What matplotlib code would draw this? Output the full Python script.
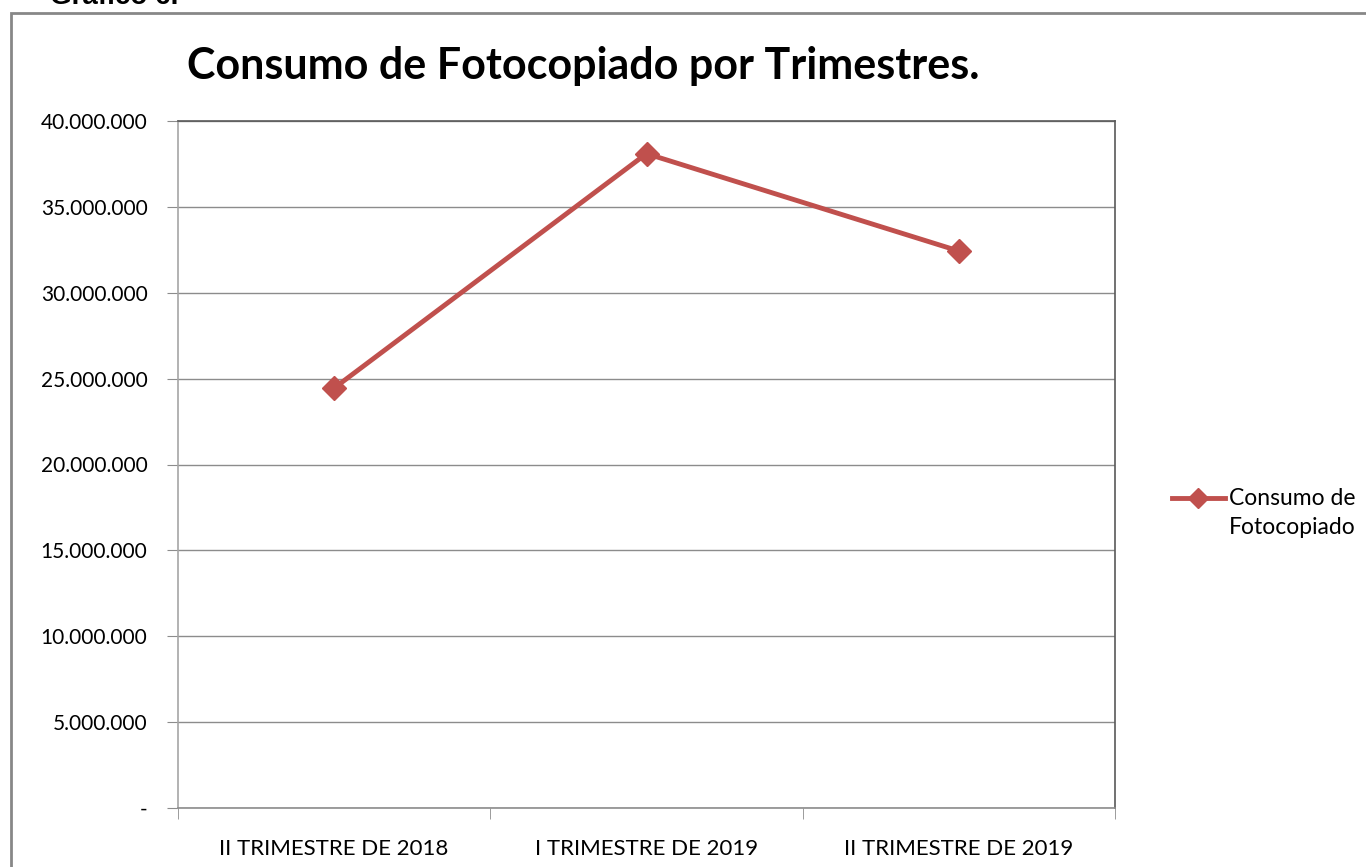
import matplotlib.pyplot as plt
from matplotlib.ticker import FuncFormatter, FixedLocator
from matplotlib.patches import Rectangle
from matplotlib.lines import Line2D

# Datos
trimestres = ['II TRIMESTRE DE 2018', 'I TRIMESTRE DE 2019', 'II TRIMESTRE DE 2019']
consumo = [24450000, 38100000, 32430000]
y_ticks = [0, 5000000, 10000000, 15000000, 20000000, 25000000, 30000000, 35000000, 40000000]
serie = 'Consumo de\nFotocopiado'

color_linea = '#C0504D'
plt.rcParams['font.family'] = ['Lato', 'DejaVu Sans']

fig = plt.figure(figsize=(13.66, 8.67), dpi=100)
W, H = 1366, 867

# Marco exterior del grafico
fig.patches.append(Rectangle((11 / W, -0.01), 1.1, (H - 13) / H + 0.01,
                             transform=fig.transFigure, fill=False,
                             edgecolor='#878787', linewidth=2))
fig.text(50 / W, 1 - 10 / H, 'Gráfico 6.', fontsize=20, fontweight='bold',
         family='Liberation Sans', va='bottom', ha='left')

ax = fig.add_axes([178 / W, 1 - 808 / H, (1115 - 178) / W, (808 - 121) / H])

x = range(len(trimestres))
ax.plot(x, consumo, color=color_linea, linewidth=3.5, marker='D', markersize=12,
        zorder=3)

ax.set_xlim(-0.5, len(trimestres) - 0.5)
ax.set_ylim(0, 40000000)
ax.yaxis.set_major_locator(FixedLocator(y_ticks))

def fmt(v, pos):
    if v == 0:
        return '-'
    return f'{int(v):,}'.replace(',', '.')

ax.yaxis.set_major_formatter(FuncFormatter(fmt))
ax.grid(axis='y', color='#8c8c8c', linewidth=1)
ax.set_axisbelow(True)

ax.set_xticks(list(x))
ax.set_xticklabels(trimestres)
ax.set_xticks([-0.5, 0.5, 1.5, 2.5], minor=True)
ax.tick_params(axis='x', which='major', length=0, pad=22, labelsize=16)
ax.tick_params(axis='x', which='minor', length=8, color='#8c8c8c', direction='out')
ax.tick_params(axis='y', length=8, color='#8c8c8c', direction='out', pad=14, labelsize=15)

ax.spines['left'].set_color('#a6a6a6')
ax.spines['bottom'].set_color('#8c8c8c')
ax.spines['top'].set_color('#595959')
ax.spines['right'].set_color('#595959')
for s in ax.spines.values():
    s.set_linewidth(1.2)

fig.text(583 / W, 1 - 66 / H, 'Consumo de Fotocopiado por Trimestres.',
         fontsize=31, fontweight='bold', ha='center', va='center')

# Leyenda (dibujada a mano: marcador alineado con la primera linea)
ly = 1 - 498 / H
fig.add_artist(Line2D([1172 / W, 1225 / W], [ly, ly], color=color_linea,
                      linewidth=3.5, transform=fig.transFigure))
fig.add_artist(Line2D([1198 / W], [ly], color=color_linea, marker='D',
                      markersize=10, transform=fig.transFigure))
fig.text(1229 / W, 1 - 488 / H, serie, fontsize=16.5, ha='left', va='top',
         linespacing=1.5)

fig.savefig('out.png', dpi=100)
